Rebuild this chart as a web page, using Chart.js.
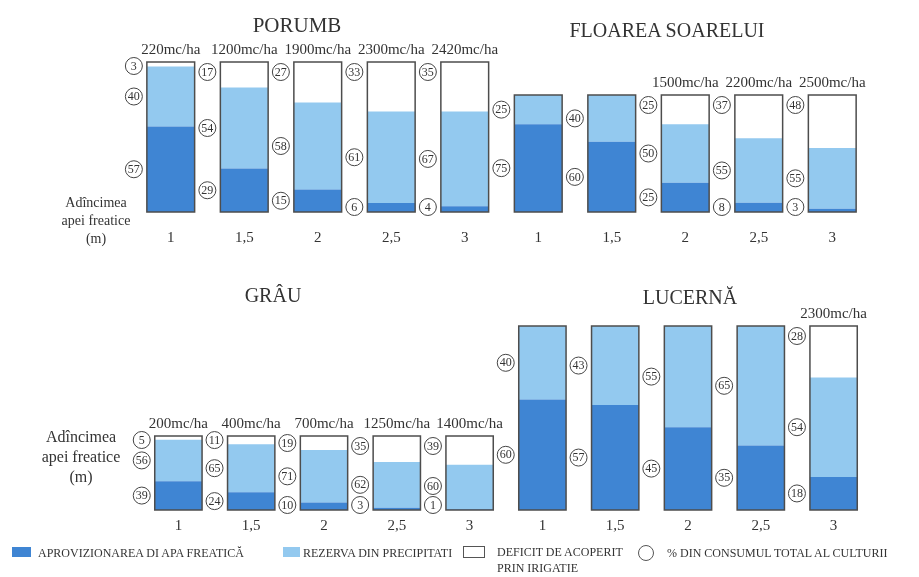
<!DOCTYPE html>
<html>
<head>
<meta charset="utf-8">
<script src="https://cdn.jsdelivr.net/npm/chart.js@4.4.1/dist/chart.umd.min.js"></script>
<style>
  body { margin: 0; background: #fff; }
  #page { position: relative; width: 919px; height: 577px; overflow: hidden; font-family: "Liberation Serif", serif; color: #333; }
  canvas { position: absolute; left: 0; }
  .t { position: absolute; transform: translate(-50%, -50%); white-space: nowrap; line-height: 1; }
  .side { position: absolute; transform: translateX(-50%); text-align: center; white-space: nowrap; }
  .lg { position: absolute; font-size: 12px; line-height: 1; white-space: nowrap; transform: translateY(-50%); }
  .sw { position: absolute; }
</style>
</head>
<body>
<div id="page">
  <canvas id="top-chart" width="919" height="262" style="top:0"></canvas>
  <canvas id="bottom-chart" width="919" height="275" style="top:262px"></canvas>

  <div class="t" style="left:297px;top:25px;font-size:21px">PORUMB</div>
  <div class="t" style="left:667px;top:30px;font-size:20px">FLOAREA SOARELUI</div>
  <div class="t" style="left:273px;top:295px;font-size:20px">GRÂU</div>
  <div class="t" style="left:690px;top:297px;font-size:20px">LUCERNĂ</div>

  <div class="side" style="left:96px;top:194px;font-size:14px;line-height:18px">Adîncimea<br>apei freatice<br>(m)</div>
  <div class="side" style="left:81px;top:427px;font-size:16px;line-height:20px">Adîncimea<br>apei freatice<br>(m)</div>

  <div class="sw" style="left:12px;top:547px;width:19px;height:10px;background:#3f85d3"></div>
  <div class="lg" style="left:38px;top:553px">APROVIZIONAREA DI APA FREATICĂ</div>
  <div class="sw" style="left:283px;top:547px;width:17px;height:10px;background:#93c9ef"></div>
  <div class="lg" style="left:303px;top:553px">REZERVA DIN PRECIPITATI</div>
  <div class="sw" style="left:463px;top:546px;width:20px;height:10px;border:1px solid #555;background:#fff"></div>
  <div class="lg" style="left:497px;top:552px">DEFICIT DE ACOPERIT</div>
  <div class="lg" style="left:497px;top:568px">PRIN IRIGATIE</div>
  <div class="sw" style="left:638px;top:545px;width:14px;height:14px;border:1px solid #555;border-radius:50%"></div>
  <div class="lg" style="left:667px;top:553px">% DIN CONSUMUL TOTAL AL CULTURII</div>
</div>

<script>
const depths = ['1', '1,5', '2', '2,5', '3'];

// % din consumul total, citit din cercuri
const porumbFreatic = [57, 29, 15, 6, 4];
const porumbPrecip = [40, 54, 58, 61, 67];
const porumbDeficit = [3, 17, 27, 33, 35];
const porumbIrig = ['220mc/ha', '1200mc/ha', '1900mc/ha', '2300mc/ha', '2420mc/ha'];

const floareaFreatic = [75, 60, 25, 8, 3];
const floareaPrecip = [25, 40, 50, 55, 55];
const floareaDeficit = [null, null, 25, 37, 48];
const floareaIrig = [null, null, '1500mc/ha', '2200mc/ha', '2500mc/ha'];

const grauFreatic = [39, 24, 10, 3, 1];
const grauPrecip = [56, 65, 71, 62, 60];
const grauDeficit = [5, 11, 19, 35, 39];
const grauIrig = ['200mc/ha', '400mc/ha', '700mc/ha', '1250mc/ha', '1400mc/ha'];

const lucernaFreatic = [60, 57, 45, 35, 18];
const lucernaPrecip = [40, 43, 55, 65, 54];
const lucernaDeficit = [null, null, null, null, 28];
const lucernaIrig = [null, null, null, null, '2300mc/ha'];

// inaltimea relativa a coloanelor (consumul total al culturii)
const porumbHeight = 150;
const floareaHeight = 117;
const grauHeight = 74;
const lucernaHeight = 184;

const DARK = '#3f85d3';
const LIGHT = '#93c9ef';
const FONT = '"Liberation Serif", serif';

function buildSets(crops) {
    const dark = [], light = [], white = [];
    const pDark = [], pLight = [], pWhite = [];
    crops.forEach(c => {
        c.freatic.forEach((f, i) => {
            const total = f + c.precip[i] + (c.deficit[i] || 0);
            const k = c.height / total;
            dark.push(f * k);
            light.push(c.precip[i] * k);
            white.push((c.deficit[i] || 0) * k);
            pDark.push(f);
            pLight.push(c.precip[i]);
            pWhite.push(c.deficit[i]);
        });
    });
    return [
        { label: 'Aprovizionarea di apa freatică', data: dark, pct: pDark, backgroundColor: DARK },
        { label: 'Rezerva din precipitati', data: light, pct: pLight, backgroundColor: LIGHT },
        { label: 'Deficit de acoperit prin irigatie', data: white, pct: pWhite, backgroundColor: '#fff' }
    ];
}

const barNotes = {
    id: 'barNotes',
    afterDatasetsDraw(chart, args, opts) {
        const ctx = chart.ctx;
        const sets = chart.data.datasets;
        const metas = sets.map((s, d) => chart.getDatasetMeta(d));
        chart.data.labels.forEach((lab, i) => {
            const els = metas.map(m => m.data[i]);
            const w = els[0].width;
            const left = els[0].x - w / 2;
            const bottom = els[0].base;
            let top = bottom;
            els.forEach((el, d) => {
                if (sets[d].data[i] > 0) top = Math.min(top, el.y);
            });

            ctx.save();
            ctx.strokeStyle = '#4d4d4d';
            ctx.lineWidth = 1.5;
            ctx.strokeRect(left, top, w, bottom - top);

            ctx.textAlign = 'center';
            ctx.textBaseline = 'middle';
            const txt = opts.irrig[i];
            if (txt) {
                ctx.fillStyle = '#333';
                ctx.font = '15px ' + FONT;
                ctx.fillText(txt, els[0].x, top - 12);
            }

            // cercurile, de jos in sus, fara suprapunere
            let prev = Infinity;
            els.forEach((el, d) => {
                const p = sets[d].pct[i];
                if (p == null) return;
                let cy = (el.y + el.base) / 2;
                if (d === 2) cy = Math.min(cy, el.y + 10);
                cy = Math.min(bottom - 5, cy, prev - 19);
                cy = Math.max(top + 4, cy);
                prev = cy;
                const cx = left - 13;
                ctx.beginPath();
                ctx.arc(cx, cy, 8.5, 0, Math.PI * 2);
                ctx.fillStyle = '#fff';
                ctx.fill();
                ctx.lineWidth = 1;
                ctx.strokeStyle = '#444';
                ctx.stroke();
                ctx.fillStyle = '#333';
                ctx.font = '12px ' + FONT;
                ctx.fillText(String(p), cx, cy + 0.5);
            });
            ctx.restore();
        });
    }
};

function makeChart(id, crops, irig, pad, axisHeight, tickPad, yMax) {
    return new Chart(document.getElementById(id), {
        type: 'bar',
        data: {
            labels: depths.concat(depths),
            datasets: buildSets(crops)
        },
        options: {
            responsive: false,
            animation: false,
            devicePixelRatio: 1,
            barPercentage: 0.65,
            categoryPercentage: 1,
            layout: { padding: pad },
            plugins: {
                legend: { display: false },
                tooltip: { enabled: false },
                barNotes: { irrig: irig }
            },
            scales: {
                x: {
                    stacked: true,
                    grid: { display: false, drawTicks: false },
                    border: { display: false },
                    ticks: { color: '#333', padding: tickPad, font: { family: FONT, size: 15 } },
                    afterFit(scale) { scale.height = axisHeight; }
                },
                y: { stacked: true, display: false, min: 0, max: yMax }
            }
        },
        plugins: [barNotes]
    });
}

makeChart('top-chart', [
    { freatic: porumbFreatic, precip: porumbPrecip, deficit: porumbDeficit, height: porumbHeight },
    { freatic: floareaFreatic, precip: floareaPrecip, deficit: floareaDeficit, height: floareaHeight }
], porumbIrig.concat(floareaIrig), { left: 134, right: 50, top: 52, bottom: 0 }, 50, 17, 160);

makeChart('bottom-chart', [
    { freatic: grauFreatic, precip: grauPrecip, deficit: grauDeficit, height: grauHeight },
    { freatic: lucernaFreatic, precip: lucernaPrecip, deficit: lucernaDeficit, height: lucernaHeight }
], grauIrig.concat(lucernaIrig), { left: 142, right: 49, top: 48, bottom: 0 }, 27, 7, 200);
</script>
</body>
</html>
